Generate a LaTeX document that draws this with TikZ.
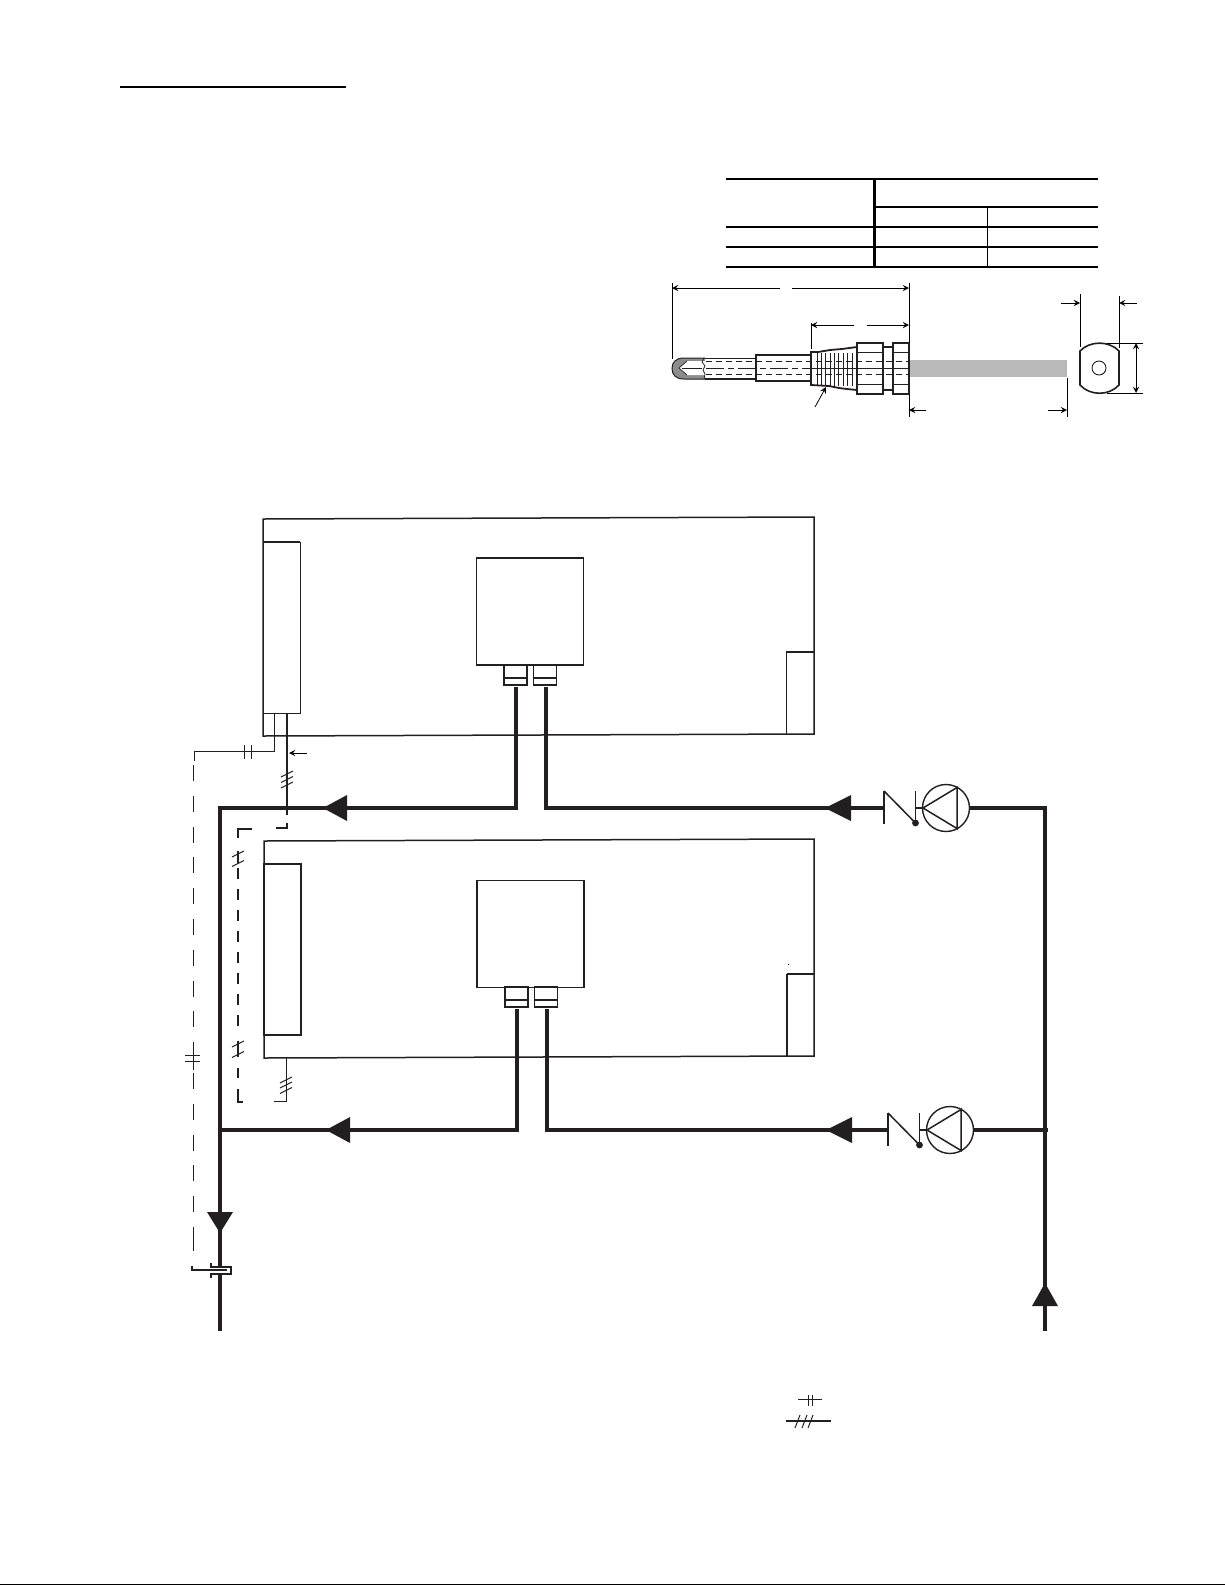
\documentclass[tikz,border=0pt]{standalone}
\usepackage{tikz}
\usetikzlibrary{arrows}
\usepackage{xcolor}
\definecolor{bargray}{HTML}{B9B9B9}
\definecolor{inkblack}{HTML}{231F20}
\tikzstyle{thin line} = [line width=0.5pt, draw=inkblack]
\tikzstyle{wire} = [line width=0.65pt, draw=inkblack]
\tikzstyle{wall} = [line width=0.75pt, draw=inkblack]
\tikzstyle{pipe} = [line width=2pt, draw=inkblack, line join=miter]
\tikzstyle{rule} = [line width=0.9pt, draw=black]
\tikzstyle{dimline} = [line width=0.4pt, draw=black, -stealth]
\tikzstyle{ext} = [line width=0.4pt, draw=black]
\tikzstyle{head} = [fill=inkblack, draw=none]
\tikzstyle{ctrlbox} = [rectangle, draw=inkblack, line width=0.6pt, minimum width=53.5pt, minimum height=53.5pt, inner sep=0pt, outer sep=0pt]
\tikzstyle{fitbox} = [rectangle, draw=inkblack, line width=0.8pt, minimum width=11.5pt, minimum height=10pt, inner sep=0pt, outer sep=0pt]
\tikzstyle{coilbox} = [rectangle, draw=inkblack, minimum width=18.5pt, inner sep=0pt, outer sep=0pt]
\tikzstyle{pump} = [circle, draw=inkblack, line width=0.7pt, minimum size=23.5pt, inner sep=0pt, outer sep=0pt]
\tikzstyle{longdash} = [line width=0.65pt, draw=inkblack, dash pattern=on 8pt off 7.4pt]
\tikzstyle{shortdash} = [line width=0.65pt, draw=inkblack, dash pattern=on 5.5pt off 5pt]
\begin{document}
\begin{tikzpicture}[x=0.5pt,y=-0.5pt]
    \useasboundingbox (0,0) rectangle (1225,1585);

    % page rules
    \draw [rule] (120,87) -- (346,87);
    \draw [line width=0.8pt] (0,1584.3) -- (1225,1584.3);

    % table
    \foreach \ty in {179,227,247,267}
        \draw [rule] (726,\ty) -- (1098,\ty);
    \draw [rule] (874,207) -- (1098,207);
    \draw [line width=1.5pt] (874,178.5) -- (874,267.5);
    \draw [ext, line width=0.5pt] (987,207) -- (987,267);

    % probe
    \fill [bargray] (909,360) rectangle (1067,377);
    \fill [black!45] (705,358) -- (684,358) .. controls (676,358) and (672,362) .. (672,368.5) .. controls (672,375) and (676,379) .. (684,379) -- (705,379) -- cycle;
    \fill [white] (707,361) -- (687,361) -- (679,368) -- (687,375) -- (707,375) -- cycle;
    \draw [thin line] (705,358) -- (684,358) .. controls (676,358) and (672,362) .. (672,368.5) .. controls (672,375) and (676,379) .. (684,379) -- (705,379);
    \draw [thin line, line width=0.35pt] (687,361) -- (679,368) -- (687,375);
    \draw [thin line, line width=0.35pt] (704,358) -- (702,362) -- (705,366) -- (703,370) -- (705,374) -- (704,379);
    \draw [thin line] (705,358) -- (756,358);
    \draw [wall] (705,379) -- (756,379);
    \draw [wall, line width=0.9pt, fill=white] (756,355) rectangle (811,381);
    \draw [wall, line width=0.9pt, fill=white] (811,352) -- (818,352) -- (830,350) -- (842,349) -- (857,347) -- (857,390) -- (847,389) -- (839,388) -- (829,386) -- (811,385) -- cycle;
    \foreach \tx in {817,821,825,830,834,838,843,847,852}
        \draw [thin line] (\tx,353) -- (\tx,386);
    \draw [wall, line width=0.9pt, fill=white] (883,347) rectangle (893,390);
    \draw [wall, line width=1pt, fill=white] (857,343) rectangle (883,394);
    \draw [wall, line width=1pt, fill=white] (893,343) rectangle (909,394);
    \foreach \tx/\ux in {857/883,893/909} {
        \draw [thin line] (\tx,352) -- (\ux,352);
        \draw [thin line] (\tx,384) -- (\ux,384);
    }
    \draw [thin line, dash pattern=on 3pt off 2pt] (706,361) -- (909,361);
    \draw [thin line, dash pattern=on 3pt off 2pt] (706,374) -- (909,374);
    \draw [thin line, dash pattern=on 9pt off 2pt on 3pt off 2pt] (706,368) -- (811,368);
    \draw [thin line] (811,368) -- (909,368);
    \draw [thin line] (682,368) -- (702,368);
    \draw [dimline] (815,407) -- (826,387);

    % probe dimensions
    \draw [ext] (672,283) -- (672,359);
    \draw [ext] (909,283) -- (909,343);
    \draw [ext] (811,323) -- (811,349);
    \draw [ext] (909,394) -- (909,417);
    \draw [ext] (1067,378) -- (1067,417);
    \draw [dimline] (780,288) -- (672,288);
    \draw [dimline] (792,288) -- (909,288);
    \draw [dimline] (854,325) -- (811,325);
    \draw [dimline] (867,325) -- (909,325);
    \draw [dimline] (926,410) -- (909,410);
    \draw [dimline] (1048,410) -- (1067,410);

    % end view
    \node (hole) [circle, draw=black, line width=0.4pt, minimum size=7pt, inner sep=0pt] at (1099,368) {};
    \draw [wall, line width=0.8pt] (1080,351) .. controls (1090,340.5) and (1109,340.5) .. (1119,351) -- (1119,385) .. controls (1109,396) and (1090,396) .. (1080,385) -- cycle;
    \draw [ext] (1080,294) -- (1080,347);
    \draw [ext] (1119,296) -- (1119,348);
    \draw [ext] (1107,343) -- (1143,343);
    \draw [ext] (1107,393) -- (1143,393);
    \draw [dimline] (1061,303) -- (1080,303);
    \draw [dimline] (1137,303) -- (1119,303);
    \draw [dimline] (1136,368) -- (1136,343);
    \draw [dimline] (1136,368) -- (1136,393);

    % upper unit
    \coordinate (unitA1) at (263,519);
    \coordinate (unitA2) at (814,517);
    \coordinate (unitA3) at (814,734);
    \coordinate (unitA4) at (263,736);
    \draw [wall] (unitA1) -- (unitA2) -- (unitA3) -- (unitA4) -- cycle;
    \node (coilA) [coilbox, line width=0.5pt, minimum height=85.5pt] at (281.5,627.5) {};
    \draw [wall] (coilA.north west) -- (coilA.north east);
    \draw [wall] (786,652) -- (814,652);
    \draw [thin line] (786,652) -- (786,734);
    \node (ctrlA) [ctrlbox] at (530,611.5) {};
    \node (fitA1) [fitbox] at (515.5,675) {};
    \node (fitA2) [fitbox] at (545,675) {};

    % lower unit
    \coordinate (unitB1) at (264,841);
    \coordinate (unitB2) at (814,839);
    \coordinate (unitB3) at (814,1056);
    \coordinate (unitB4) at (264,1058);
    \draw [wall] (unitB1) -- (unitB2) -- (unitB3) -- (unitB4) -- cycle;
    \node (coilB) [coilbox, line width=0.8pt, minimum height=85.5pt] at (282.5,949.5) {};
    \draw [wall] (787,974) -- (814,974);
    \draw [wall] (787,974) -- (787,1056);
    \node (ctrlB) [ctrlbox] at (530.5,934) {};
    \node (fitB1) [fitbox] at (516.5,997) {};
    \node (fitB2) [fitbox] at (546,997) {};
    \fill [black] (787.6,963.6) rectangle (788.4,964.4);

    \foreach \f in {fitA1,fitA2,fitB1,fitB2}
        \draw [wall] ([yshift=-1.5pt]\f.west) -- ([yshift=-1.5pt]\f.east);

    % pumps and check valves
    \foreach \vx/\vy/\n in {884/808/1,888/1130/2} {
        \coordinate (valveIn\n) at (\vx,\vy);
        \coordinate (valveOut\n) at (\vx+31.5,\vy);
        \node (pump\n) [pump] at (\vx+62,\vy) {};
        \draw [wall] (\vx,\vy-17) -- (\vx,\vy+16);
        \draw [wall] (\vx,\vy-17) -- (\vx+31.5,\vy+15);
        \draw [wall] (\vx+31.5,\vy-17) -- (\vx+31.5,\vy+15);
        \fill [inkblack] (\vx+31.5,\vy+15) circle (1.7pt);
        \draw [wall, line width=1.2pt] (valveOut\n) -- (pump\n.west);
        \draw [wall] (\vx+39,\vy) -- (\vx+73,\vy-20.5) -- (\vx+73,\vy+20.5) -- cycle;
    }

    % piping
    \coordinate (supA) at (516,687);
    \coordinate (supB) at (546,687);
    \coordinate (supC) at (517,1009);
    \coordinate (supD) at (547,1009);
    \coordinate (riser) at (1045,808);
    \coordinate (riserTee) at (1048,1130);
    \coordinate (riserEnd) at (1045,1331);
    \coordinate (mainTop) at (220,808);
    \coordinate (mainTee) at (220,1130);
    \coordinate (mainEnd) at (220,1331);
    \draw [pipe] (supA) |- (mainTop) -- (mainEnd);
    \draw [pipe] (supB) |- (valveIn1);
    \draw [pipe] (supC) |- (mainTee);
    \draw [pipe] (supD) |- (valveIn2);
    \draw [pipe] (pump1.east) -- (riser) -- (riserEnd);
    \draw [pipe] (pump2.east) -- (riserTee);

    % flow heads
    \fill [head] (323,808) -- (347,795) -- (347,821) -- cycle;
    \fill [head] (326,1130) -- (350,1117) -- (350,1143) -- cycle;
    \fill [head] (825,808) -- (851,795) -- (851,821) -- cycle;
    \fill [head] (826,1130) -- (852,1117) -- (852,1143) -- cycle;
    \fill [head] (220,1233) -- (207,1212) -- (233,1212) -- cycle;
    \fill [head] (1045,1283) -- (1032,1306) -- (1058,1306) -- cycle;

    % sensor pocket
    \fill [white] (211,1267) rectangle (231,1274);
    \draw [wall] (211,1263) -- (211,1267) -- (231,1267) -- (231,1274) -- (211,1274) -- (211,1278);
    \draw [wall] (192,1266) -- (192,1270) -- (227,1270);

    % signal wires
    \coordinate (wireA) at (274,713);
    \coordinate (wireB) at (287,713);
    \coordinate (wireC) at (286,1058);
    \draw [thin line] (wireA) -- (274,751) -- (194,751) -- (194,761);
    \draw [longdash] (193.5,765) -- (193.5,1243);
    \draw [wire] (193.5,1243) -- (193.5,1251);
    \draw [wall] (wireB) -- (287,815);
    \draw [wire] (287,823) -- (287,828) -- (276,828);
    \draw [wire] (252,829) -- (238,829) -- (238,838);
    \draw [wire] (238,851) -- (238,863);
    \draw [shortdash] (238,868) -- (238,1034);
    \draw [wire] (238,1041) -- (238,1057);
    \draw [wire] (238,1068) -- (238,1078);
    \draw [wire] (238,1089) -- (238,1102) -- (243,1102);
    \draw [thin line] (wireC) -- (286,1101) -- (274,1101);
    \draw [dimline] (307,753) -- (289,753);

    % wire marks
    \foreach \wy in {774,779.5,785}
        \draw [thin line] (281,\wy+3) -- (293,\wy-3);
    \foreach \wy in {1080,1085,1090.5}
        \draw [thin line] (280,\wy+3) -- (292,\wy-3);
    \foreach \wy in {854,863.5,1044,1054.5}
        \draw [thin line] (232,\wy+3) -- (244,\wy-3);
    \foreach \wx in {244,251}
        \draw [thin line] (\wx,745) -- (\wx,759);
    \foreach \wy in {1055,1061}
        \draw [thin line] (185,\wy) -- (200,\wy);
    \draw [thin line] (193,1046) -- (193,1070);

    % legend
    \draw [thin line] (798,1399) -- (822,1399);
    \draw [thin line] (808,1395) -- (808,1406);
    \draw [thin line] (812,1395) -- (812,1406);
    \draw [wall] (786,1421) -- (831,1421);
    \foreach \lx in {795,802,808}
        \draw [thin line] (\lx,1428) -- (\lx+5,1415);
\end{tikzpicture}
\end{document}
